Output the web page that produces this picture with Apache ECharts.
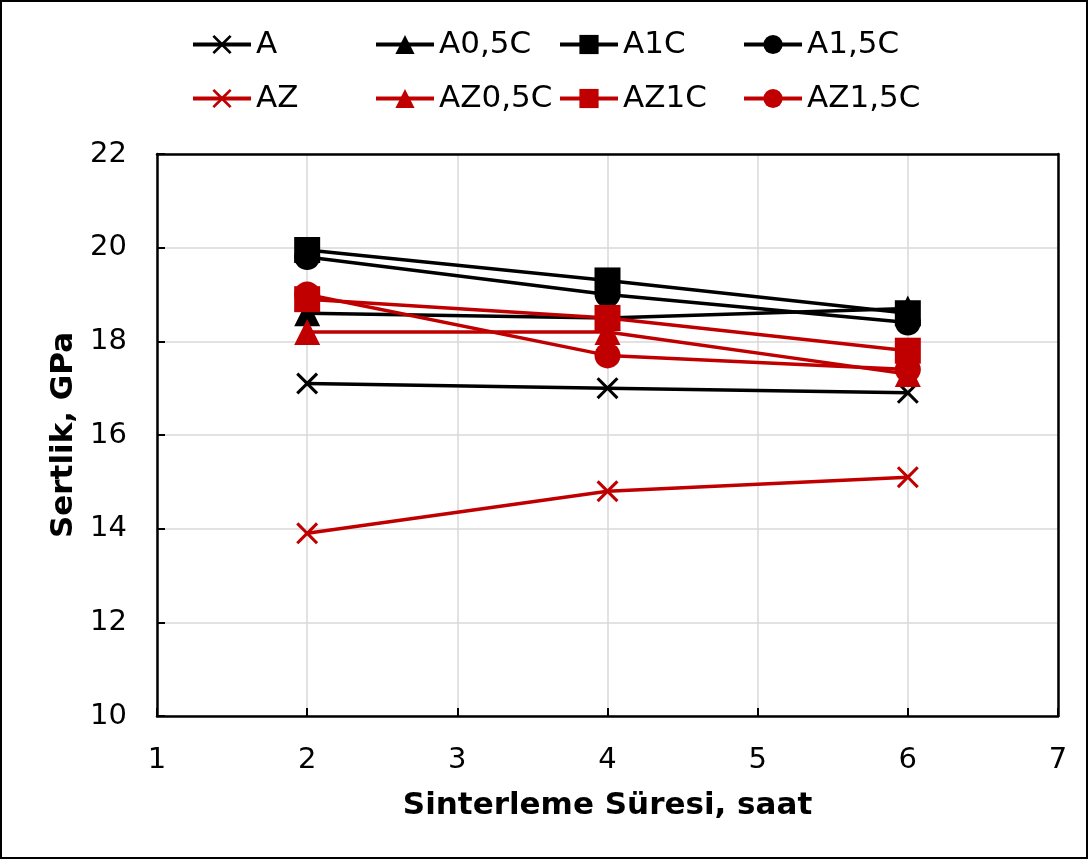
<!DOCTYPE html>
<html>
<head>
<meta charset="utf-8">
<script src="https://cdn.jsdelivr.net/npm/echarts@6/dist/echarts.min.js"></script>
<style>
html,body{margin:0;padding:0;background:#fff;}
#wrap{position:absolute;left:0;top:0;width:1084px;height:855px;border:2px solid #000;}
#chart{width:1084px;height:855px;}
</style>
</head>
<body>
<div id="wrap"><div id="chart"></div></div>
<script>
const xValues = [2, 4, 6];
const seriesNames = ['A', 'A0,5C', 'A1C', 'A1,5C', 'AZ', 'AZ0,5C', 'AZ1C', 'AZ1,5C'];
const A      = [17.1, 17.0, 16.9];
const A05C   = [18.6, 18.5, 18.7];
const A1C    = [19.95, 19.3, 18.6];
const A15C   = [19.8, 19.0, 18.4];
const AZ     = [13.9, 14.8, 15.1];
const AZ05C  = [18.2, 18.2, 17.3];
const AZ1C   = [18.9, 18.5, 17.8];
const AZ15C  = [19.0, 17.7, 17.4];
const seriesValues = [A, A05C, A1C, A15C, AZ, AZ05C, AZ1C, AZ15C];
const xTicks = [1, 2, 3, 4, 5, 6, 7];
const yTicks = [10, 12, 14, 16, 18, 20, 22];

const CROSS = 'path://M0,1L1,0L5,4L9,0L10,1L6,5L10,9L9,10L5,6L1,10L0,9L4,5Z';
const symbols = [CROSS, 'triangle', 'rect', 'circle', CROSS, 'triangle', 'rect', 'circle'];
const sizes = [22, 26, 26, 26, 22, 26, 26, 26];
const colors = ['#000000','#000000','#000000','#000000','#C00000','#C00000','#C00000','#C00000'];
const FONT = 'DejaVu Sans';

const series = seriesNames.map((n, i) => ({
  name: n,
  type: 'line',
  xAxisIndex: 0, yAxisIndex: 0,
  data: xValues.map((x, j) => [x, seriesValues[i][j]]),
  symbol: symbols[i],
  symbolSize: sizes[i],
  showAllSymbol: true,
  lineStyle: {color: colors[i], width: 3.5},
  itemStyle: {color: colors[i], borderWidth: 0},
  emphasis: {disabled: true},
  animation: false,
  z: 2 + i
}));

const colLeft = [189, 372, 556, 740];
const rowTop = [27, 81];
const legends = seriesNames.map((n, i) => ({
  data: [n],
  left: colLeft[i % 4],
  top: rowTop[Math.floor(i / 4)],
  itemWidth: 58,
  itemHeight: 24,
  itemGap: 0,
  padding: 0,
  lineStyle: {width: 4},
  textStyle: {fontFamily: FONT, fontSize: 31, color: '#000'},
  selectedMode: false
}));

const chart = echarts.init(document.getElementById('chart'), null, {renderer: 'canvas'});
chart.setOption({
  animation: false,
  backgroundColor: '#fff',
  color: colors,
  legend: legends,
  grid: {left: 155, right: 28, top: 152, bottom: 141, show: false, containLabel: false},
  xAxis: [{
    type: 'value', min: xTicks[0], max: xTicks[xTicks.length-1], interval: 1,
    name: 'Sinterleme Süresi, saat', nameLocation: 'middle', nameGap: 74,
    nameTextStyle: {fontFamily: FONT, fontSize: 31, fontWeight: 'bold', color: '#000'},
    axisLine: {show: true, lineStyle: {color: '#000', width: 2.5}},
    axisTick: {show: true, inside: true, length: 8, lineStyle: {color: '#000', width: 2}},
    axisLabel: {fontFamily: FONT, fontSize: 29, color: '#000', margin: 30},
    splitLine: {show: true, lineStyle: {color: '#d9d9d9', width: 1.5}},
    z: 1
  }, {
    type: 'value', position: 'top', min: xTicks[0], max: xTicks[xTicks.length-1], interval: 1,
    axisLine: {show: true, onZero: false, lineStyle: {color: '#000', width: 2.5}},
    axisTick: {show: false}, axisLabel: {show: false}, splitLine: {show: false}, z: 5
  }],
  yAxis: [{
    type: 'value', min: yTicks[0], max: yTicks[yTicks.length-1], interval: 2,
    name: 'Sertlik, GPa', nameLocation: 'middle', nameGap: 78,
    nameTextStyle: {fontFamily: FONT, fontSize: 31, fontWeight: 'bold', color: '#000'},
    axisLine: {show: true, lineStyle: {color: '#000', width: 2.5}},
    axisTick: {show: true, inside: true, length: 8, lineStyle: {color: '#000', width: 2}},
    axisLabel: {fontFamily: FONT, fontSize: 29, color: '#000', margin: 30},
    splitLine: {show: true, lineStyle: {color: '#d9d9d9', width: 1.5}},
    z: 1
  }, {
    type: 'value', position: 'right', min: yTicks[0], max: yTicks[yTicks.length-1], interval: 2,
    axisLine: {show: true, onZero: false, lineStyle: {color: '#000', width: 2.5}},
    axisTick: {show: false}, axisLabel: {show: false}, splitLine: {show: false}, z: 5
  }],
  series: series
});
</script>
</body>
</html>
